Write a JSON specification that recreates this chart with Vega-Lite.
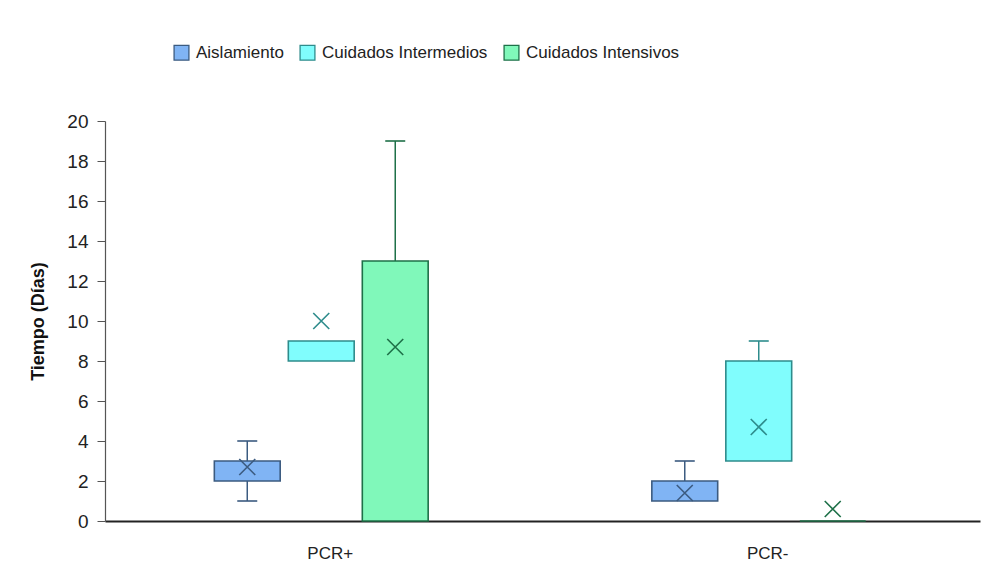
{
  "$schema": "https://vega.github.io/schema/vega-lite/v6.json",
  "width": 875,
  "height": 400,
  "autosize": {"type": "none"},
  "padding": {"left": 105, "top": 121, "right": 3, "bottom": 62},
  "background": "white",
  "config": {
    "view": {"stroke": null},
    "font": "Liberation Sans",
    "axisY": {
      "title": "Tiempo (Días)", "titleFontSize": 18, "titleFontWeight": "bold", "titleColor": "#111",
      "titlePadding": 19, "labelOverlap": false,
      "grid": false, "labelFontSize": 19, "labelColor": "#222", "labelPadding": 9,
      "tickSize": 8, "tickColor": "#555", "domainColor": "#555", "domainWidth": 1.2
    }
  },
  "datasets": {
    "boxes": [
      {"grupo": "PCR+", "cat": "Aislamiento", "q1": 2, "q3": 3, "media": 2.7},
      {"grupo": "PCR+", "cat": "Cuidados Intermedios", "q1": 8, "q3": 9, "media": 10},
      {"grupo": "PCR+", "cat": "Cuidados Intensivos", "q1": 0, "q3": 13, "media": 8.7},
      {"grupo": "PCR-", "cat": "Aislamiento", "q1": 1, "q3": 2, "media": 1.4},
      {"grupo": "PCR-", "cat": "Cuidados Intermedios", "q1": 3, "q3": 8, "media": 4.7},
      {"grupo": "PCR-", "cat": "Cuidados Intensivos", "q1": 0, "q3": 0, "media": 0.6}
    ],
    "whiskers": [
      {"grupo": "PCR+", "cat": "Aislamiento", "desde": 2, "hasta": 1},
      {"grupo": "PCR+", "cat": "Aislamiento", "desde": 3, "hasta": 4},
      {"grupo": "PCR+", "cat": "Cuidados Intensivos", "desde": 13, "hasta": 19},
      {"grupo": "PCR-", "cat": "Aislamiento", "desde": 2, "hasta": 3},
      {"grupo": "PCR-", "cat": "Cuidados Intermedios", "desde": 8, "hasta": 9}
    ]
  },
  "encoding": {
    "x": {
      "field": "grupo", "type": "nominal",
      "sort": ["PCR+", "PCR-"],
      "scale": {"paddingInner": 0.173, "paddingOuter": 0.0865, "align": 0.467},
      "axis": {
        "title": null, "labelAngle": 0, "labelFontSize": 17, "labelColor": "#222",
        "ticks": false, "labelPadding": 24, "labelOffset": 9,
        "domainColor": "#222", "domainWidth": 2
      }
    },
    "xOffset": {
      "field": "cat", "type": "nominal",
      "scale": {"domain": ["Aislamiento", "Cuidados Intermedios", "Cuidados Intensivos"], "paddingInner": 0.11, "paddingOuter": 1}
    }
  },
  "layer": [
    {
      "data": {"name": "boxes"},
      "mark": {"type": "bar", "strokeWidth": 1.6},
      "encoding": {
        "y": {
          "field": "q1", "type": "quantitative",
          "scale": {"domain": [0, 20], "nice": false},
          "axis": {"title": "Tiempo (Días)", "values": [0, 2, 4, 6, 8, 10, 12, 14, 16, 18, 20]}
        },
        "y2": {"field": "q3"},
        "fill": {
          "field": "cat", "type": "nominal",
          "scale": {"domain": ["Aislamiento", "Cuidados Intermedios", "Cuidados Intensivos"], "range": ["#80b4f4", "#80fdfd", "#80f8ba"]},
          "legend": {
            "title": null, "orient": "none", "direction": "horizontal",
            "legendX": 68, "legendY": -77,
            "symbolType": "square", "symbolSize": 220, "symbolStrokeWidth": 1.3,
            "labelFontSize": 17, "labelColor": "#222", "labelOffset": 6, "columnPadding": 13,
            "labelLimit": 400
          }
        },
        "stroke": {
          "field": "cat", "type": "nominal",
          "scale": {"domain": ["Aislamiento", "Cuidados Intermedios", "Cuidados Intensivos"], "range": ["#3b5b80", "#2e8c8c", "#1e7048"]},
          "legend": null
        }
      }
    },
    {
      "data": {"name": "whiskers"},
      "mark": {"type": "rule", "strokeWidth": 1.5},
      "encoding": {
        "y": {"field": "desde", "type": "quantitative", "axis": {"title": "Tiempo (Días)", "values": [0, 2, 4, 6, 8, 10, 12, 14, 16, 18, 20]}},
        "y2": {"field": "hasta"},
        "stroke": {"field": "cat", "type": "nominal", "legend": null}
      }
    },
    {
      "data": {"name": "whiskers"},
      "mark": {"type": "point", "shape": "M-1,0L1,0", "size": 400, "filled": false, "strokeWidth": 1.6, "opacity": 1},
      "encoding": {
        "y": {"field": "hasta", "type": "quantitative", "axis": {"title": "Tiempo (Días)", "values": [0, 2, 4, 6, 8, 10, 12, 14, 16, 18, 20]}},
        "stroke": {"field": "cat", "type": "nominal", "legend": null}
      }
    },
    {
      "data": {"name": "boxes"},
      "mark": {"type": "point", "shape": "M-1,-1L1,1M-1,1L1,-1", "size": 256, "filled": false, "strokeWidth": 1.6, "opacity": 1},
      "encoding": {
        "y": {"field": "media", "type": "quantitative", "axis": {"title": "Tiempo (Días)", "values": [0, 2, 4, 6, 8, 10, 12, 14, 16, 18, 20]}},
        "stroke": {"field": "cat", "type": "nominal", "legend": null}
      }
    }
  ]
}
